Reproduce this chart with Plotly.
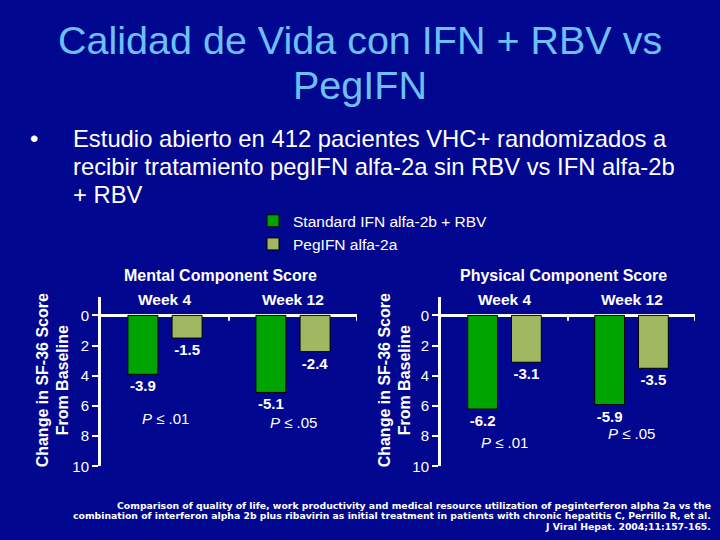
import plotly.graph_objects as go

# ---- data ----
categories = ["Week 4", "Week 12"]
mental_std = [-3.9, -5.1]
mental_peg = [-1.5, -2.4]
physical_std = [-6.2, -5.9]
physical_peg = [-3.1, -3.5]
p_mental = ["<i>P</i> ≤ .01", "<i>P</i> ≤ .05"]
p_physical = ["<i>P</i> ≤ .01", "<i>P</i> ≤ .05"]
series_names = ["Standard IFN alfa-2b + RBV", "PegIFN alfa-2a"]
tick_vals = [0, -2, -4, -6, -8, -10]
tick_text = ["0", "2", "4", "6", "8", "10"]
title_lines = ["Calidad de Vida con IFN + RBV vs", "PegIFN"]
bullet_lines = ["Estudio abierto en 412 pacientes VHC+ randomizados a",
                "recibir tratamiento pegIFN alfa-2a sin RBV vs IFN alfa-2b",
                "+ RBV"]
citation_lines = ["Comparison of quality of life, work productivity and medical resource utilization of peginterferon alpha 2a vs the",
                  "combination of interferon alpha 2b plus ribavirin as initial treatment in patients with chronic hepatitis C, Perrillo R, et al.",
                  "J Viral Hepat. 2004;11:157-165."]

# ---- style ----
BG = "#02078F"
TITLE_C = "#6CC0F5"
GREEN = "#00A400"
OLIVE = "#A0B862"
FONT = "Liberation Sans"
P_Y_MENTAL = [-6.8, -7.1]
P_Y_PHYS = [-8.4, -7.85]
VS = 1.016  # vertical calibration


def Y(py):
    return 1 - (py * VS) / 540


fig = go.Figure()


def add_bars(xa, ya, std, peg, show):
    for vals, name, col in [(std, series_names[0], GREEN), (peg, series_names[1], OLIVE)]:
        fig.add_trace(go.Bar(
            x=categories, y=vals, name=name, xaxis=xa, yaxis=ya,
            marker=dict(color=col, line=dict(color="black", width=1)),
            text=[f"{v:.1f}" for v in vals], textposition="outside",
            textfont=dict(family=FONT, size=15, color="white", weight="bold"),
            cliponaxis=False, showlegend=show, hoverinfo="skip"))


add_bars("x", "y", mental_std, mental_peg, True)
add_bars("x2", "y2", physical_std, physical_peg, False)

ydom = [Y(466), Y(297)]
yax = dict(range=[-10, 1.2], tickvals=tick_vals, ticktext=tick_text,
           showline=True, linecolor="white", linewidth=3,
           ticks="outside", ticklen=6, tickwidth=2, tickcolor="white",
           showgrid=False, zeroline=True, zerolinecolor="white", zerolinewidth=3,
           tickfont=dict(family=FONT, size=15, color="white"), domain=ydom)
xax = dict(range=[-0.5, 1.5], showticklabels=False, showline=False,
           showgrid=False, zeroline=False, type="category")

fig.update_layout(
    width=720, height=540,
    margin=dict(l=0, r=0, t=0, b=0),
    paper_bgcolor=BG, plot_bgcolor=BG,
    barmode="group", bargap=0.31, bargroupgap=0.32,
    xaxis=dict(xax, domain=[101 / 720, 357 / 720], anchor="y"),
    yaxis=dict(yax, anchor="x"),
    xaxis2=dict(xax, domain=[441 / 720, 695 / 720], anchor="y2"),
    yaxis2=dict(yax, anchor="x2"),
    legend=dict(x=253 / 720, y=Y(204), xanchor="left", yanchor="top",
                bgcolor="rgba(0,0,0,0)", font=dict(family=FONT, size=15.5, color="white"),
                itemwidth=30, tracegroupgap=0),
    showlegend=True,
)


def pa(text, x, y, size, color="white", xanchor="center", weight="normal", family=FONT, **kw):
    return dict(text=text, x=x / 720, y=Y(y), xref="paper", yref="paper",
                xanchor=xanchor, yanchor="middle", showarrow=False,
                font=dict(family=family, size=size, color=color, weight=weight), **kw)


ann = []
for line, yy in zip(title_lines, [40, 85]):
    ann.append(pa(line, 360, yy, 39.5, color=TITLE_C))
ann.append(pa("•", 28, 138, 24, xanchor="left"))
for line, yy in zip(bullet_lines, [138, 166, 194]):
    ann.append(pa(line, 71, yy, 23.8, xanchor="left"))
ann.append(pa("Mental Component Score", 220, 275, 16, weight="bold"))
ann.append(pa("Physical Component Score", 563, 275, 16, weight="bold"))
for cx in [53, 395]:
    ann.append(pa("Change in SF-36 Score<br>From Baseline", cx, 380, 16, weight="bold", textangle=-90))
for xa, ya, plist, py in [("x", "y", p_mental, P_Y_MENTAL), ("x2", "y2", p_physical, P_Y_PHYS)]:
    for i, c in enumerate(categories):
        ann.append(dict(text=c, x=c, y=0.35, xref=xa, yref=ya, xanchor="center", yanchor="bottom",
                        showarrow=False, font=dict(family=FONT, size=15.5, color="white", weight="bold")))
        ann.append(dict(text=plist[i], x=c, y=py[i], xref=xa, yref=ya, xanchor="center", yanchor="middle",
                        showarrow=False, font=dict(family=FONT, size=15, color="white")))
for line, yy in zip(citation_lines, [505, 515.5, 526]):
    ann.append(pa(line, 713, yy, 9.3, xanchor="right", weight="bold", family="DejaVu Sans"))
fig.update_layout(annotations=ann)

shapes = []
for xa, ya in [("x", "y"), ("x2", "y2")]:
    for b in [0.5, 1.5]:
        shapes.append(dict(type="line", xref=xa, yref=ya, x0=b, x1=b, y0=0, y1=-0.35,
                           line=dict(color="white", width=2)))
fig.update_layout(shapes=shapes)

fig.write_html("out.html", config={"displayModeBar": False},
               post_script="document.body.style.margin='0';document.body.style.background='" + BG + "';")
